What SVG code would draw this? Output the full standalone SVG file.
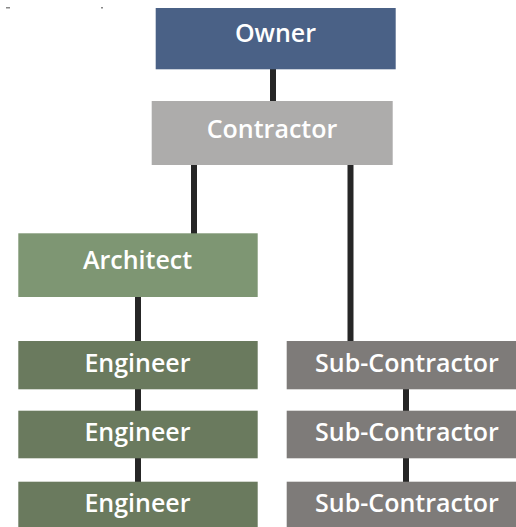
<svg xmlns="http://www.w3.org/2000/svg" width="516" height="527" viewBox="0 0 516 527">
<style>
text{font-family:"Open Sans",Lato,"Liberation Sans",sans-serif;font-size:25px;font-weight:600;fill:#ffffff;text-anchor:middle}
.c{stroke:#262626;stroke-width:6;fill:none}
</style>
<rect width="516" height="527" fill="#ffffff"/>
<g id="specks" fill="#888"><rect x="6" y="7" width="4" height="1.5"/><rect x="101" y="7" width="2" height="1.5"/></g>
<g id="connectors">
<line class="c" x1="273" y1="69" x2="273" y2="101"/>
<line class="c" x1="194" y1="165" x2="194" y2="234"/>
<line class="c" x1="350.5" y1="165" x2="350.5" y2="341"/>
<line class="c" x1="138" y1="297" x2="138" y2="341"/>
<line class="c" x1="138" y1="389" x2="138" y2="411"/>
<line class="c" x1="138" y1="458" x2="138" y2="482"/>
<line class="c" x1="406" y1="389" x2="406" y2="411"/>
<line class="c" x1="406" y1="458" x2="406" y2="482"/>
</g>
<g id="owner"><rect x="155.7" y="8" width="240" height="61.3" fill="#4a6186"/><text x="275.5" y="42">Owner</text></g>
<g id="contractor"><rect x="151.7" y="101" width="241" height="64" fill="#adacab"/><text x="272" y="137.7">Contractor</text></g>
<g id="architect"><rect x="18.3" y="233.3" width="239.4" height="63.7" fill="#7e9673"/><text x="137.5" y="269.3">Architect</text></g>
<g id="engineer1"><rect x="18.3" y="341" width="239.4" height="48.3" fill="#6a7a5e"/><text x="137.5" y="371.7">Engineer</text></g>
<g id="engineer2"><rect x="18.3" y="410.7" width="239.4" height="47.6" fill="#6a7a5e"/><text x="137.5" y="440.7">Engineer</text></g>
<g id="engineer3"><rect x="18.3" y="481.7" width="239.4" height="50" fill="#6a7a5e"/><text x="137.5" y="511.7">Engineer</text></g>
<g id="sub1"><rect x="286.7" y="341" width="240" height="48.3" fill="#7e7b79"/><text x="407" y="371.7">Sub-Contractor</text></g>
<g id="sub2"><rect x="286.7" y="410.7" width="240" height="47.6" fill="#7e7b79"/><text x="407" y="440.7">Sub-Contractor</text></g>
<g id="sub3"><rect x="286.7" y="481.7" width="240" height="50" fill="#7e7b79"/><text x="407" y="511.7">Sub-Contractor</text></g>
</svg>
